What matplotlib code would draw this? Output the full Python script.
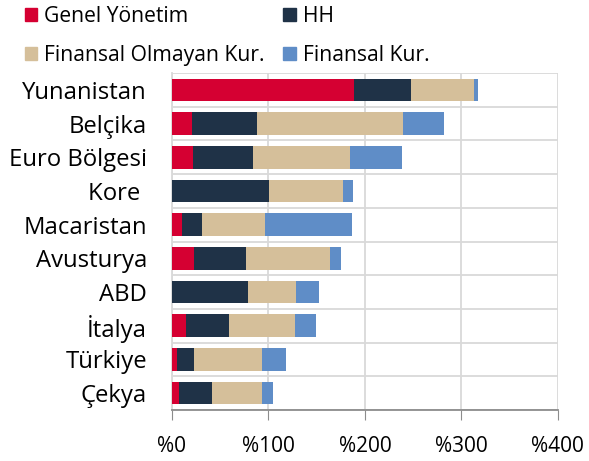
import numpy as np
import matplotlib.pyplot as plt
from matplotlib.patches import Patch

plt.rcParams['font.family'] = ['Open Sans', 'DejaVu Sans']

countries = ['Yunanistan', 'Belçika', 'Euro Bölgesi', 'Kore ', 'Macaristan',
             'Avusturya', 'ABD', 'İtalya', 'Türkiye', 'Çekya']
genel = [189, 20.4, 21.8, 0.5, 10.4, 22.8, 0.3, 14.5, 5.5, 7.6]
hh = [58.7, 67.6, 62.5, 100.4, 20.7, 53.5, 78.5, 44.5, 17.3, 34.2]
fin_olmayan = [65.3, 151.4, 100.2, 76.3, 64.9, 87.1, 49.7, 68.1, 70.5, 51.5]
finansal = [4.4, 42.6, 54.2, 10, 90.2, 12, 23.5, 22.1, 25.1, 11.4]

series = [genel, hh, fin_olmayan, finansal]
names = ['Genel Yönetim', 'HH', 'Finansal Olmayan Kur.', 'Finansal Kur.']
colors = ['#D50032', '#1F3247', '#D5BF9A', '#5F8DC7']

fig = plt.figure(figsize=(5.89, 4.61), dpi=100)
ax = fig.add_axes([0.292, 0.1106, 0.655, 0.731])

y = np.arange(len(countries))
left = np.zeros(len(countries))
for vals, c in zip(series, colors):
    ax.barh(y, vals, left=left, height=0.67, color=c, zorder=3)
    left += np.array(vals)

ax.set_xlim(0, 400)
ax.set_ylim(len(countries) - 0.5, -0.5)
ax.set_xticks([0, 100, 200, 300, 400])
ax.set_xticklabels(['%0', '%100', '%200', '%300', '%400'], fontsize=15)
ax.set_yticks(y)
ax.set_yticklabels(countries, fontsize=17.2)
ax.set_yticks(np.arange(len(countries) + 1) - 0.5, minor=True)
ax.tick_params(axis='y', which='both', length=0, pad=18)
ax.tick_params(axis='x', length=7, color='#8c8c8c', pad=12)
ax.grid(axis='x', color='#d9d9d9', lw=1.3, zorder=0)
ax.grid(axis='y', which='minor', color='#d9d9d9', lw=1.3, zorder=0)
for s in ['top', 'right']:
    ax.spines[s].set_visible(False)
ax.spines['left'].set_color('#d9d9d9')
ax.spines['left'].set_linewidth(1.3)
ax.spines['bottom'].set_color('#8c8c8c')
ax.spines['bottom'].set_linewidth(1.3)

# legend fills column-wise, so order so rows read: Genel, HH / FinOlm, FinKur
order = [0, 2, 1, 3]
handles = [Patch(color=colors[i]) for i in order]
labels = [names[i] for i in order]
fig.legend(handles, labels, loc='upper left', bbox_to_anchor=(0.0096, 1.028), ncol=2,
           frameon=False, fontsize=15.2, handlelength=0.6, handleheight=0.6,
           handletextpad=0.34, columnspacing=0.85, labelspacing=0.85)

plt.savefig('out.png')
